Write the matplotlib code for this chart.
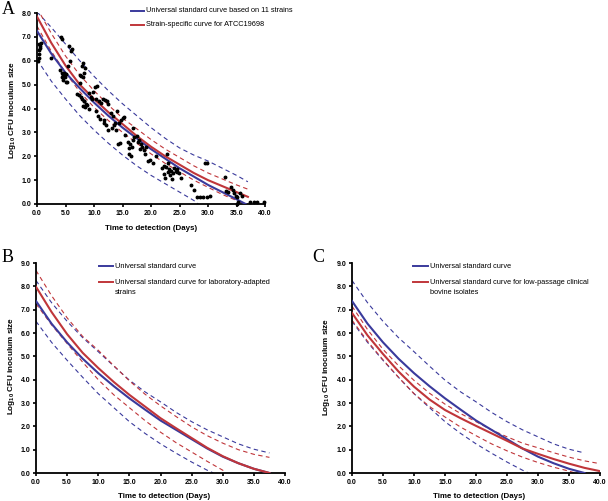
import matplotlib
matplotlib.use('Agg')
import matplotlib.pyplot as plt
from matplotlib.lines import Line2D

plt.rcParams['font.family'] = ['Liberation Sans', 'DejaVu Sans']
plt.rcParams['mathtext.fontset'] = 'custom'
plt.rcParams['mathtext.rm'] = 'Liberation Sans:bold'
plt.rcParams['mathtext.bf'] = 'Liberation Sans:bold'
plt.rcParams['mathtext.default'] = 'bf'

BLUE = '#3a3a9c'
RED = '#c0363a'

# ---- panel A data ----
xa = [0, 2.5, 5, 7.5, 10, 12.5, 15, 17.5, 20, 22.5, 25, 27.5, 30, 32.5, 35, 37]
a_univ_x = [0, 2.5, 5, 7.5, 10, 12.5, 15, 17.5, 20, 22.5, 25, 27.5, 30, 32.5, 35, 36.6]
a_univ = [7.25, 6.3, 5.5, 4.85, 4.25, 3.7, 3.2, 2.75, 2.3, 1.9, 1.5, 1.15, 0.8, 0.5, 0.2, 0.0]
a_strain = [7.85, 6.75, 5.8, 5.0, 4.4, 3.85, 3.35, 2.85, 2.4, 2.0, 1.65, 1.3, 1.0, 0.75, 0.5, 0.3]
a_univ_hi = [8.05, 7.4, 6.7, 6.0, 5.35, 4.75, 4.2, 3.7, 3.2, 2.75, 2.35, 2.05, 1.8, 1.5, 1.2, 0.93]
a_univ_lo_x = [0, 2.5, 5, 7.5, 10, 12.5, 15, 17.5, 20, 22.5, 25, 27.5, 28.3]
a_univ_lo = [6.05, 5.15, 4.4, 3.7, 3.1, 2.55, 2.05, 1.6, 1.2, 0.85, 0.5, 0.15, 0.0]
a_strain_hi = [8.2, 7.15, 6.2, 5.4, 4.75, 4.15, 3.6, 3.15, 2.7, 2.3, 1.95, 1.6, 1.3, 1.05, 0.8, 0.62]
a_strain_lo_x = [0, 2.5, 5, 7.5, 10, 12.5, 15, 17.5, 20, 22.5, 25, 27.5, 30, 32.5, 35, 36.5]
a_strain_lo = [7.45, 6.4, 5.5, 4.7, 4.05, 3.5, 3.0, 2.55, 2.1, 1.7, 1.35, 1.0, 0.7, 0.4, 0.15, 0.0]

obs_x = [0.2, 0.3, 0.4, 0.3, 0.5, 0.6, 0.4, 0.7,
         2.5,
         4.2, 4.4, 4.0, 4.3, 4.6, 4.8, 4.9, 4.5, 5.0, 4.7, 5.1, 4.4,
         5.6, 5.9, 6.1, 5.8, 5.5, 5.3,
         7.0, 7.3, 7.9,
         7.6, 7.8, 8.0, 8.2, 8.1, 8.4, 7.7, 7.9, 8.2, 8.0, 8.5, 8.3, 7.6, 8.6, 8.8,
         9.1, 9.4, 9.7, 9.2, 9.8,
         10.2, 10.6, 10.4, 10.9, 10.3, 10.7, 11.0, 11.2,
         11.6, 11.9, 12.2, 12.4, 11.8, 12.1, 12.5, 11.7,
         13.0, 13.3, 13.6, 13.2, 13.8, 14.0, 13.5,
         14.2, 14.6, 14.4, 14.8, 15.0, 15.3, 15.5,
         16.0, 16.3, 16.6, 16.1, 16.5, 16.9, 17.0, 16.8, 16.2,
         17.6, 17.9, 18.2, 18.5, 18.0, 18.7, 18.9, 17.8,
         19.2, 19.5, 19.8, 20.3, 20.8,
         22.0, 22.3, 22.6, 22.9, 22.8, 22.2, 22.5, 23.0,
         23.2, 23.5, 23.8, 23.4, 23.7, 24.0,
         24.3, 24.6, 24.9, 25.2, 24.5,
         27.1, 27.6, 28.0,
         28.6, 29.2, 29.8, 30.4, 29.4, 29.9,
         33.0, 33.2, 33.5,
         34.0, 34.3, 34.6, 34.9, 35.1, 35.3, 35.0, 35.6, 36.0,
         37.4, 38.0, 38.6, 39.8]
obs_y = [6.0, 6.1, 6.3, 6.45, 6.55, 6.6, 6.7, 6.75,
         6.1,
         7.0, 6.9, 5.6, 5.5, 5.4, 5.35, 5.3, 5.2, 5.1, 5.5, 5.45, 5.3,
         6.6, 6.4, 6.5, 6.0, 5.8, 5.1,
         4.6, 4.55, 5.8,
         5.4, 5.35, 5.3, 5.5, 5.9, 5.7, 4.5, 4.4, 4.3, 4.1, 4.05, 4.3, 5.05, 4.2, 4.15,
         4.65, 4.5, 4.4, 4.0, 4.7,
         4.9, 4.95, 4.4, 4.3, 3.9, 3.7, 3.55, 4.25,
         4.4, 4.35, 4.3, 4.2, 3.5, 3.3, 3.1, 3.4,
         3.8, 3.7, 3.4, 3.2, 3.1, 3.9, 3.3,
         2.5, 2.55, 3.4, 3.5, 3.6, 3.65, 2.9,
         2.6, 2.5, 2.4, 2.1, 2.0, 2.7, 2.8, 3.2, 2.35,
         2.85, 2.7, 2.5, 2.4, 2.3, 2.25, 2.1, 2.6,
         2.4, 1.8, 1.85, 1.7, 2.0,
         1.5, 1.6, 1.55, 1.7, 2.1, 1.25, 1.1, 1.35,
         1.45, 1.4, 1.3, 1.2, 1.05, 1.5,
         1.4, 1.35, 1.3, 1.1, 1.45,
         0.8, 0.6, 0.3,
         0.3, 0.3, 0.3, 0.35, 1.7, 1.7,
         1.15, 0.55, 0.5,
         0.7, 0.6, 0.45, 0.35, 0.3, 0.1, 0.0, 0.45, 0.35,
         0.1, 0.1, 0.1, 0.1]

# ---- panels B and C data ----
xbc = [0, 2.5, 5, 7.5, 10, 12.5, 15, 17.5, 20, 22.5, 25, 27.5, 30, 32.5, 35, 37.5]
univ = [7.37, 6.4, 5.6, 4.9, 4.28, 3.72, 3.2, 2.72, 2.25, 1.85, 1.45, 1.05, 0.7, 0.42, 0.18, 0.0]
univ_hi = [8.25, 7.3, 6.5, 5.8, 5.2, 4.58, 3.98, 3.48, 3.05, 2.6, 2.2, 1.85, 1.55, 1.25, 1.02, 0.86]
univ_lo_x = [0, 2.5, 5, 7.5, 10, 12.5, 15, 17.5, 20, 22.5, 25, 27.5, 28.5]
univ_lo = [6.5, 5.6, 4.83, 4.1, 3.4, 2.8, 2.2, 1.7, 1.25, 0.85, 0.47, 0.12, 0.0]

lab = [7.98, 6.9, 5.95, 5.15, 4.5, 3.9, 3.35, 2.85, 2.35, 1.92, 1.5, 1.08, 0.72, 0.42, 0.18, 0.0]
lab_hi = [8.68, 7.6, 6.65, 5.85, 5.26, 4.6, 3.95, 3.38, 2.88, 2.42, 1.98, 1.6, 1.28, 1.0, 0.8, 0.67]
lab_lo_x = [0, 2.5, 5, 7.5, 10, 12.5, 15, 17.5, 20, 22.5, 25, 27.5, 30, 30.5]
lab_lo = [7.25, 6.35, 5.55, 4.75, 4.0, 3.35, 2.8, 2.25, 1.75, 1.3, 0.9, 0.5, 0.12, 0.0]

xc = [0, 2.5, 5, 7.5, 10, 12.5, 15, 17.5, 20, 22.5, 25, 27.5, 30, 32.5, 35, 37.5, 40]
clin = [6.86, 5.9, 5.1, 4.35, 3.7, 3.15, 2.7, 2.35, 2.02, 1.7, 1.38, 1.05, 0.82, 0.6, 0.4, 0.22, 0.08]
clin_hi = [7.15, 6.15, 5.3, 4.6, 3.97, 3.42, 2.95, 2.55, 2.2, 1.85, 1.55, 1.28, 1.08, 0.87, 0.68, 0.52, 0.4]
clin_lo_x = [0, 2.5, 5, 7.5, 10, 12.5, 15, 17.5, 20, 22.5, 25, 27.5, 30, 32.5, 35, 36]
clin_lo = [6.55, 5.65, 4.85, 4.1, 3.4, 2.85, 2.4, 1.97, 1.6, 1.25, 0.95, 0.68, 0.45, 0.25, 0.08, 0.0]

W, H = 608, 501
fig = plt.figure(figsize=(6.08, 5.01), dpi=100)


def px_axes(l, t, r, b):
    return fig.add_axes([l / W, 1 - b / H, (r - l) / W, (b - t) / H])


def style(ax, ymax, xl_pos, yl_pos):
    ax.set_xlim(0, 40)
    ax.set_ylim(0, ymax)
    ax.set_xticks(range(0, 41, 5))
    ax.set_xticklabels(['%.1f' % v for v in range(0, 41, 5)])
    ax.set_yticks(range(0, ymax + 1))
    ax.set_yticklabels(['%.1f' % v for v in range(0, ymax + 1)])
    for s in ['top', 'right']:
        ax.spines[s].set_visible(False)
    for s in ['left', 'bottom']:
        ax.spines[s].set_linewidth(1.3)
    ax.tick_params(direction='out', length=2.5, width=1.2, labelsize=5.0, pad=1.5)
    for t in ax.get_xticklabels() + ax.get_yticklabels():
        t.set_fontweight('bold')
    fig.text(xl_pos[0] / W, 1 - xl_pos[1] / H, 'Time to detection (Days)',
             ha='center', va='center', fontsize=5.7, fontweight='bold')
    fig.text(yl_pos[0] / W, 1 - yl_pos[1] / H, 'Log$_{10}$ CFU inoculum size',
             ha='center', va='center', rotation=90, fontsize=5.9, fontweight='bold')


def legend(x0, x1, xt, rows):
    for y, c, txt in rows:
        fig.add_artist(Line2D([x0 / W, x1 / W], [1 - y / H, 1 - y / H], color=c, lw=1.4))
        fig.text(xt / W, 1 - y / H, txt, ha='left', va='center', fontsize=5.3)


def solid(ax, x, y, c):
    ax.plot(x, y, color=c, lw=1.5, zorder=3)


def dashed(ax, x, y, c):
    ax.plot(x, y, color=c, lw=0.8, dashes=(4, 3), zorder=2)


# Panel A
axA = px_axes(37, 13, 265, 204)
axA.plot(obs_x, obs_y, 'o', color='black', ms=1.8, clip_on=False, zorder=4)
dashed(axA, xa, a_univ_hi, BLUE)
dashed(axA, a_univ_lo_x, a_univ_lo, BLUE)
dashed(axA, xa, a_strain_hi, RED)
dashed(axA, a_strain_lo_x, a_strain_lo, RED)
solid(axA, a_univ_x, a_univ, BLUE)
solid(axA, xa, a_strain, RED)
style(axA, 8, (151, 228), (13, 110))
legend(131, 144, 146, [(11, BLUE, 'Universal standard curve based on 11 strains'),
                       (25, RED, 'Strain-specific curve for ATCC19698')])

# Panel B
axB = px_axes(36, 263, 285, 473)
dashed(axB, xbc, univ_hi, BLUE)
dashed(axB, univ_lo_x, univ_lo, BLUE)
dashed(axB, xbc, lab_hi, RED)
dashed(axB, lab_lo_x, lab_lo, RED)
solid(axB, xbc, univ, BLUE)
solid(axB, xbc, lab, RED)
style(axB, 9, (164, 497), (12, 366))
legend(99, 113, 115, [(266, BLUE, 'Universal standard curve'),
                      (282, RED, 'Universal standard curve for laboratory-adapted')])
fig.text(115 / W, 1 - 292 / H, 'strains', ha='left', va='center', fontsize=5.3)

# Panel C
axC = px_axes(352, 263, 600, 473)
dashed(axC, xbc, univ_hi, BLUE)
dashed(axC, univ_lo_x, univ_lo, BLUE)
dashed(axC, xc, clin_hi, RED)
dashed(axC, clin_lo_x, clin_lo, RED)
solid(axC, xbc, univ, BLUE)
solid(axC, xc, clin, RED)
style(axC, 9, (479, 497), (327, 367))
legend(413, 428, 430, [(266, BLUE, 'Universal standard curve'),
                       (282, RED, 'Universal standard curve for low-passage clinical')])
fig.text(430 / W, 1 - 292 / H, 'bovine isolates', ha='left', va='center', fontsize=5.3)

# panel letters
for x, y, s in [(8, 9, 'A'), (8, 258, 'B'), (318, 258, 'C')]:
    fig.text(x / W, 1 - y / H, s, ha='center', va='center', fontsize=13,
             family=['Liberation Serif', 'DejaVu Serif'])

fig.savefig('out.png', dpi=100)
